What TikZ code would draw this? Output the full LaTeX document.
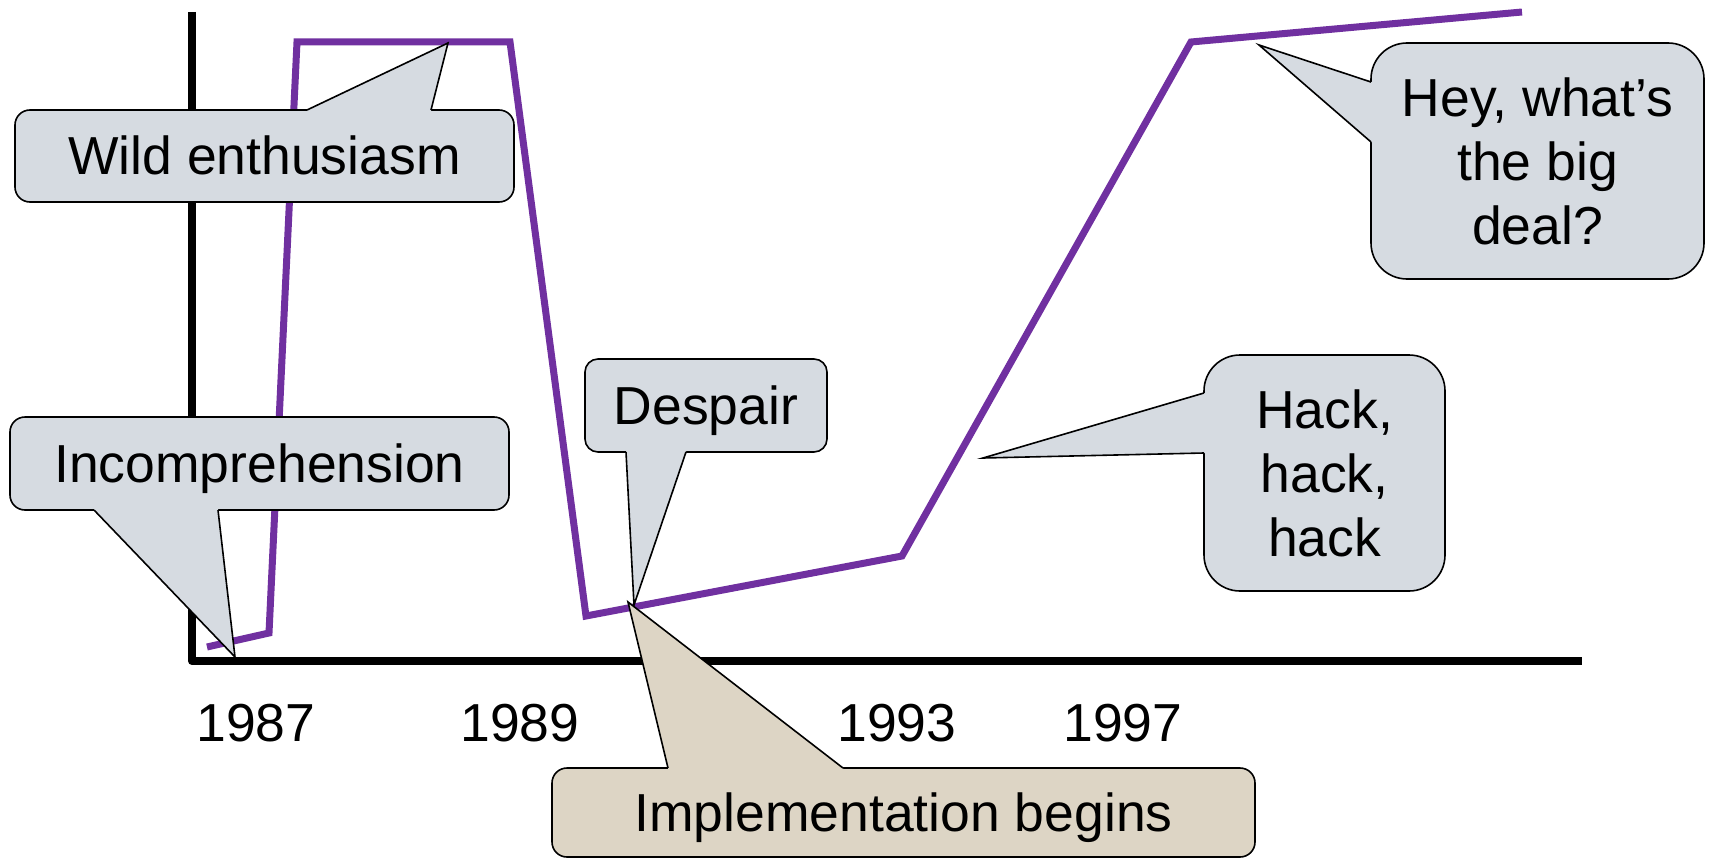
\documentclass[tikz,border=0pt]{standalone}
\usepackage{fontspec}
\setmainfont{Liberation Sans}
\usetikzlibrary{calc}
\definecolor{callgray}{HTML}{D6DBE1}
\definecolor{callbeige}{HTML}{DDD5C5}
\definecolor{plumline}{HTML}{7030A0}
\begin{document}
\begin{tikzpicture}[x=1pt,y=-1pt,
  bigfont/.style={font=\fontsize{53.5}{64}\selectfont},
  callbox/.style={draw=black, line width=1.6pt, inner sep=0pt, align=center, bigfont},
  oneline/.style={text height=48.4pt, text depth=11.3pt},
  ptredge/.style={draw=black, line width=1.6pt, line join=miter},
  axisline/.style={line width=8pt, line join=round},
  curve/.style={draw=plumline, line width=7pt, line join=miter},
  yearlbl/.style={bigfont, inner sep=0pt}]
\useasboundingbox (0,0) rectangle (1711,859);

% axes
\coordinate (ytop) at (192,12);
\coordinate (orig) at (192,661);
\coordinate (xend) at (1582,661);
\draw[axisline] (ytop) -- (orig) -- (xend);

% curve
\coordinate (p0) at (207,647);
\coordinate (p1) at (269,633);
\coordinate (p2) at (297,42);
\coordinate (p3) at (510,42);
\coordinate (p4) at (586,616);
\coordinate (p5) at (902,556);
\coordinate (p6) at (1191,42);
\coordinate (p7) at (1522,12);
\draw[curve] (p0) -- (p1) -- (p2) -- (p3) -- (p4) -- (p5) -- (p6) -- (p7);

% year labels
\node[yearlbl] (y87) at (256,723) {1987};
\node[yearlbl] (y89) at (520,723) {1989};
\node[yearlbl] (y93) at (897,723) {1993};
\node[yearlbl] (y97) at (1123,723) {1997};

% Wild enthusiasm
\node[callbox, oneline, fill=callgray, rounded corners=15pt, minimum width=499pt, minimum height=92pt] (wild) at (264.5,156) {Wild enthusiasm};
\coordinate (wildtip) at (448,43);
\fill[callgray] (307,114) -- (307,110) -- (wildtip) -- (431,110) -- (431,114) -- cycle;
\draw[ptredge] (307,110) -- (wildtip) -- (431,110);

% Incomprehension
\node[callbox, oneline, fill=callgray, rounded corners=15pt, minimum width=499pt, minimum height=93pt] (incomp) at (259.5,463.5) {Incomprehension};
\coordinate (incomptip) at (235,657);
\fill[callgray] (94,506) -- (94,510) -- (incomptip) -- (218,510) -- (218,506) -- cycle;
\draw[ptredge] (94,510) -- (incomptip) -- (218,510);

% Despair
\node[callbox, oneline, fill=callgray, rounded corners=13pt, minimum width=242pt, minimum height=93pt] (despair) at (706,405.5) {Despair};
\coordinate (despairtip) at (634,605);
\fill[callgray] (626,448) -- (626,452) -- (despairtip) -- (686,452) -- (686,448) -- cycle;
\draw[ptredge] (626,452) -- (despairtip) -- (686,452);

% Implementation begins
\node[callbox, oneline, fill=callbeige, rounded corners=15pt, minimum width=703pt, minimum height=89pt] (impl) at (903.5,812.5) {Implementation begins};
\coordinate (impltip) at (628,602);
\fill[callbeige] (668,772) -- (668,768) -- (impltip) -- (843,768) -- (843,772) -- cycle;
\draw[ptredge] (668,768) -- (impltip) -- (843,768);

% Hey, what's the big deal?
\node[callbox, fill=callgray, rounded corners=36pt, minimum width=333pt, minimum height=236pt] (hey) at (1537.5,161) {Hey, what’s\\the big\\deal?};
\coordinate (heytip) at (1259,45);
\fill[callgray] (1375,82) -- (1371,82) -- (heytip) -- (1371,142) -- (1375,142) -- cycle;
\draw[ptredge] (1371,82) -- (heytip) -- (1371,142);

% Hack, hack, hack
\node[callbox, fill=callgray, rounded corners=36pt, minimum width=241pt, minimum height=236pt] (hack) at (1324.5,473) {Hack,\\hack,\\hack};
\coordinate (hacktip) at (983,458);
\fill[callgray] (1208,393) -- (1204,393) -- (hacktip) -- (1204,453) -- (1208,453) -- cycle;
\draw[ptredge] (1204,393) -- (hacktip) -- (1204,453);
\end{tikzpicture}
\end{document}
